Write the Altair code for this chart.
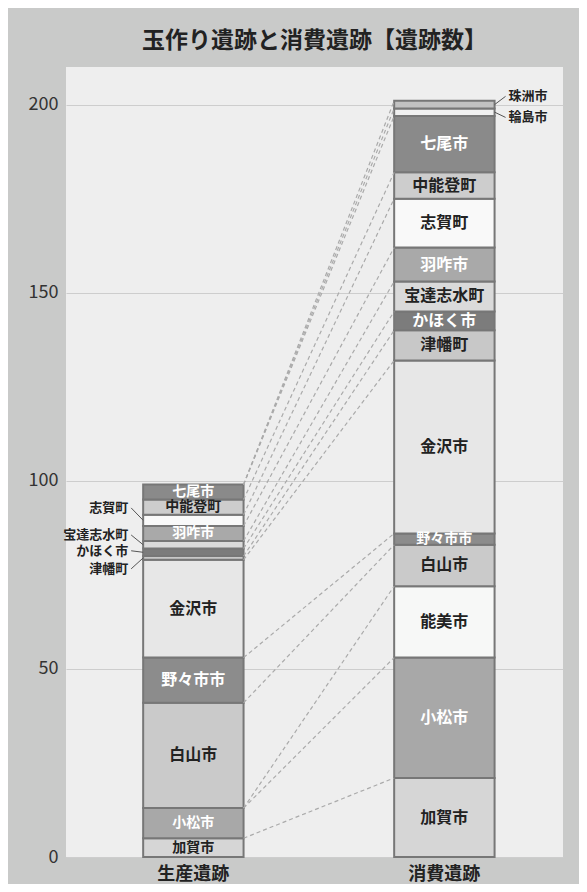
import altair as alt
import pandas as pd

# ---- data ----
sites = ["生産遺跡", "消費遺跡"]
cats = ["加賀市", "小松市", "能美市", "白山市", "野々市市", "金沢市", "津幡町", "かほく市",
        "宝達志水町", "羽咋市", "志賀町", "中能登町", "七尾市", "輪島市", "珠洲市"]
prod_vals = [5, 8, 0, 28, 12, 26, 1, 2, 2, 4, 3, 4, 4, 0, 0]
cons_vals = [21, 32, 19, 11, 3, 46, 8, 5, 8, 9, 13, 7, 15, 2, 2]
fills = ["#d6d6d6", "#a8a8a8", "#f7f8f7", "#cacaca", "#8c8c8c", "#e7e7e7", "#c8c8c8", "#7c7c7c",
         "#dadada", "#a9a9a9", "#f9f9f9", "#cdcdcd", "#8a8a8a", "#f0f0f0", "#c2c2c2"]
text_cols = ["#222", "#fff", "#222", "#222", "#fff", "#222", "#222", "#fff",
             "#222", "#fff", "#222", "#222", "#fff", "#222", "#222"]
# labels placed outside the bars (category -> label height in data units)
prod_outside = {"志賀町": 92.8, "宝達志水町": 85.6, "かほく市": 81.4, "津幡町": 76.6}
cons_outside = {"珠洲市": 202.2, "輪島市": 196.6}
small_inside = {"加賀市", "小松市", "羽咋市", "中能登町", "七尾市"}

FONT = "Noto Sans CJK JP"

# ---- build tables ----
seg_rows, conn_rows, out_rows = [], [], []
cum = {}
for site, vals, outside in ((sites[0], prod_vals, prod_outside), (sites[1], cons_vals, cons_outside)):
    acc = 0
    tops = []
    for c, v, f, tc in zip(cats, vals, fills, text_cols):
        y0, y1 = acc, acc + v
        acc = y1
        tops.append(y1)
        if v > 0:
            inside = c not in outside
            fs = 16
            if site == sites[0] and c in small_inside:
                fs = 14
            if site == sites[1] and c == "野々市市":
                fs = 14
            seg_rows.append(dict(site=site, cat=c, y0=y0, y1=y1, mid=(y0 + y1) / 2,
                                 fill=f, tcolor=tc, label=c if inside else "", fs=fs))
            if not inside:
                out_rows.append(dict(site=site, cat=c, mid=(y0 + y1) / 2, ly=outside[c]))
    cum[site] = tops

for c, ta, tb in zip(cats, cum[sites[0]], cum[sites[1]]):
    conn_rows.append(dict(a=sites[0], b=sites[1], ya=ta, yb=tb, cat=c))

seg = pd.DataFrame(seg_rows)
conn = pd.DataFrame(conn_rows)
outs = pd.DataFrame(out_rows)
out_left = outs[outs.site == sites[0]]
out_right = outs[outs.site == sites[1]]

xscale = alt.Scale(domain=sites, paddingInner=0.6, paddingOuter=0.29, align=0.53)
yscale = alt.Scale(domain=[0, 210], nice=False, zero=True)

xaxis = alt.Axis(title=None, ticks=False, domain=False, labelAngle=0,
                 labelFont=FONT, labelFontSize=18, labelFontWeight="bold",
                 labelColor="#222", labelPadding=8)
yaxis = alt.Axis(title=None, values=[0, 50, 100, 150, 200], ticks=False, domain=False,
                 labelFont=FONT, labelFontSize=18, labelColor="#333", labelPadding=8,
                 gridColor="#cdcdcd", gridWidth=1)


def xpos(field, bp=0.5):
    return alt.X(f"{field}:N", scale=xscale, sort=sites, bandPosition=bp, axis=xaxis)


def ypos(field):
    return alt.Y(f"{field}:Q", scale=yscale, axis=yaxis)


bars = alt.Chart(seg).mark_bar(stroke="#777777", strokeWidth=2).encode(
    x=xpos("site"),
    y=ypos("y0"),
    y2="y1:Q",
    fill=alt.Fill("fill:N", scale=None),
)

connectors = alt.Chart(conn).mark_rule(color="#aaaaaa", strokeDash=[4, 3], strokeWidth=1.2).encode(
    x=xpos("a", 1),
    x2=alt.X2("b", bandPosition=0),
    y=ypos("ya"),
    y2="yb:Q",
)

labels = alt.Chart(seg).mark_text(font=FONT, fontWeight="bold", baseline="middle").encode(
    x=xpos("site"),
    y=ypos("mid"),
    text="label:N",
    color=alt.Color("tcolor:N", scale=None),
    size=alt.Size("fs:Q", scale=None),
)

lead_left = alt.Chart(out_left).mark_rule(color="#555555", strokeWidth=1, xOffset=-12, x2Offset=0).encode(
    x=xpos("site", 0),
    x2=alt.X2("site", bandPosition=0),
    y=ypos("ly"),
    y2="mid:Q",
)
text_left = alt.Chart(out_left).mark_text(font=FONT, fontWeight="bold", fontSize=13, align="right",
                                           baseline="middle", dx=-15, color="#222").encode(
    x=xpos("site", 0),
    y=ypos("ly"),
    text="cat:N",
)
lead_right = alt.Chart(out_right).mark_rule(color="#555555", strokeWidth=1, xOffset=0, x2Offset=11).encode(
    x=xpos("site", 1),
    x2=alt.X2("site", bandPosition=1),
    y=ypos("mid"),
    y2="ly:Q",
)
text_right = alt.Chart(out_right).mark_text(font=FONT, fontWeight="bold", fontSize=13, align="left",
                                             baseline="middle", dx=14, color="#222").encode(
    x=xpos("site", 1),
    y=ypos("ly"),
    text="cat:N",
)

chart = alt.layer(bars, connectors, labels, lead_left, text_left, lead_right, text_right).properties(
    width=497, height=790,
    title=alt.Title("玉作り遺跡と消費遺跡【遺跡数】", font=FONT, fontSize=23, fontWeight="bold",
                    color="#222", anchor="middle", offset=14),
    background="#c9cac9",
    autosize=alt.AutoSizeParams(type="none"),
    padding={"left": 58, "top": 59, "right": 16, "bottom": 27},
).configure_view(fill="#eeeeee", stroke=None)

chart.save("out.html", embed_options={"renderer": "svg", "actions": False})
